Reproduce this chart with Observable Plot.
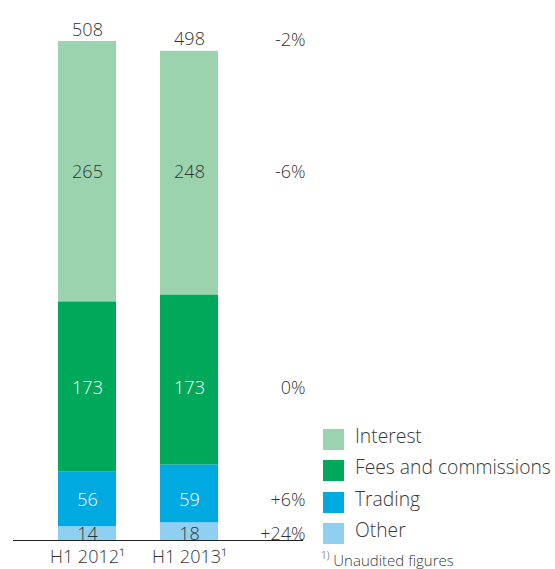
<!DOCTYPE html>
<html><head><meta charset="utf-8">
<script src="https://cdn.jsdelivr.net/npm/d3@7"></script>
<script src="https://cdn.jsdelivr.net/npm/@observablehq/plot@0.6"></script>
<style>
body{margin:0;background:#fff;font-family:"Open Sans",sans-serif;}
#wrap{position:relative;width:555px;height:569px;overflow:hidden;}
#wrap svg{position:absolute;left:0;top:0;overflow:visible;}
.legend{position:absolute;left:323px;top:424px;color:#3a3a3a;font-size:19.3px;font-weight:300;}
.legend .row{display:flex;align-items:center;height:31.3px;}
.legend .sw{width:21px;height:21px;margin-right:11px;flex:none;}
.legend .row span{position:relative;top:-4px;}
.note{position:absolute;left:321px;top:552px;font-size:15px;line-height:16px;color:#3a3a3a;font-weight:300;white-space:nowrap;}
.note sup{font-size:10px;line-height:0;position:relative;top:-1px;}
</style></head><body><div id="wrap"></div>
<script>
const periods = ["H1 2012", "H1 2013"];
const categories = ["Other", "Trading", "Fees and commissions", "Interest"];
const other = [14, 18];
const trading = [56, 59];
const fees = [173, 173];
const interest = [265, 248];
const totals = [508, 498];
const changes = ["+24%", "+6%", "0%", "-6%"];
const totalChange = "-2%";
const legendOrder = ["Interest", "Fees and commissions", "Trading", "Other"];
const colors = ["#8fd0f1", "#00a9e0", "#00a859", "#9bd3ae"];
const labelColors = ["#333333", "#ffffff", "#ffffff", "#333333"];
const footnote = "Unaudited figures";

const series = [other, trading, fees, interest];
const rows = [];
periods.forEach((p, i) => {
  let acc = 0;
  series.forEach((s, j) => {
    rows.push({period: p, category: categories[j], value: s[i], y1: acc, y2: acc + s[i], j});
    acc += s[i];
  });
});
// row label level: midpoint of first period's segment
const rowMid = categories.map((c, j) => {
  const r = rows.find(d => d.period === periods[0] && d.category === c);
  return (r.y1 + r.y2) / 2;
});
rows.forEach(r => r.labelY = rowMid[r.j]);
const changeRows = categories.map((c, j) => ({text: changes[j], y: rowMid[j]}));
const totalRows = periods.map((p, i) => ({period: p, total: totals[i]}));

const chart = Plot.plot({
  width: 555, height: 569,
  marginLeft: 13, marginRight: 252, marginTop: 0, marginBottom: 29,
  style: {fontFamily: "'Open Sans', sans-serif", color: "#333", background: "transparent"},
  x: {domain: periods, paddingInner: 0.431, paddingOuter: 0.637, align: 0.346, axis: null},
  y: {domain: [0, 508], range: [540, 41], axis: null},
  color: {domain: categories, range: colors},
  marks: [
    Plot.barY(rows, {x: "period", y1: "y1", y2: "y2", fill: "category"}),
    Plot.text(rows, {x: "period", y: "labelY", text: d => String(d.value), fill: d => labelColors[d.j], fontSize: 18, fontWeight: 300, dy: 1}),
    Plot.text(totalRows, {x: "period", y: "total", text: d => String(d.total), lineAnchor: "bottom", dy: -6, fill: "#333", fontSize: 18, fontWeight: 300}),
    Plot.text(changeRows, {y: "y", text: "text", frameAnchor: "right", textAnchor: "end", dx: 2, fill: "#333", fontSize: 18, fontWeight: 300, dy: 1}),
    Plot.text([totalChange], {y: totals[1], text: d => d, frameAnchor: "right", textAnchor: "end", dx: 2, lineAnchor: "bottom", dy: -5, fill: "#333", fontSize: 18, fontWeight: 300}),
    Plot.ruleY([0], {stroke: "#222", strokeWidth: 1.2}),
    Plot.axisX({tickSize: 0, tickPadding: 10, fontSize: 18, fontWeight: 300, fill: "#333", label: null, tickFormat: d => d + "\u00b9"})
  ]
});
const wrap = document.getElementById("wrap");
wrap.appendChild(chart);

const legend = document.createElement("div");
legend.className = "legend";
legendOrder.forEach(c => {
  const row = document.createElement("div");
  row.className = "row";
  const sw = document.createElement("div");
  sw.className = "sw";
  sw.style.background = colors[categories.indexOf(c)];
  const t = document.createElement("span");
  t.textContent = c;
  row.appendChild(sw); row.appendChild(t);
  legend.appendChild(row);
});
wrap.appendChild(legend);
const note = document.createElement("div");
note.className = "note";
note.innerHTML = "<sup>1)</sup> " + footnote;
wrap.appendChild(note);
</script></body></html>
